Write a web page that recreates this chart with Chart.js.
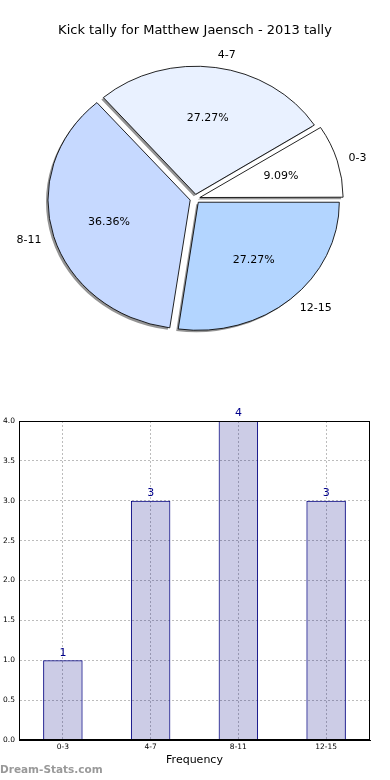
<!DOCTYPE html>
<html>
<head>
<meta charset="utf-8">
<script src="https://cdn.jsdelivr.net/npm/chart.js@4/dist/chart.umd.min.js"></script>
<style>
  html, body { margin: 0; padding: 0; background: #fff; }
  #wrap { position: relative; width: 390px; height: 780px; overflow: hidden; }
  canvas { position: absolute; left: 0; }
  #pie { top: 0; }
  #bar { top: 359px; }
  #mark { position: absolute; left: 0; top: 763px; font-family: 'DejaVu Sans', sans-serif; font-size: 10.5px; color: #999; font-weight: bold; }
</style>
</head>
<body>
<div id="wrap">
  <canvas id="pie" width="390" height="359"></canvas>
  <canvas id="bar" width="390" height="421"></canvas>
  <div id="mark">Dream-Stats.com</div>
</div>
<script>
const chartTitle = 'Kick tally for Matthew Jaensch - 2013 tally';
const categories = ['0-3', '4-7', '8-11', '12-15'];
const counts = [1, 3, 4, 3];
const pieColors = ['#ffffff', '#e9f1ff', '#c6d9ff', '#b3d5ff'];
const yTicks = [0, 0.5, 1.0, 1.5, 2.0, 2.5, 3.0, 3.5, 4.0];
const xAxisTitle = 'Frequency';

const FONT = "'DejaVu Sans', sans-serif";
const Y_SCALE = 128 / 141;   // elliptical pie (non-equal aspect)
const OFFSET = 5;            // explode distance in px (Chart.js applies offset/4)

// matplotlib draws counter-clockwise from east; Chart.js draws clockwise
const pieLabels = categories.slice().reverse();
const pieValues = counts.slice().reverse();
const pieFill = pieColors.slice().reverse();
const total = counts.reduce((a, b) => a + b, 0);

const ellipsePlugin = {
  id: 'ellipse',
  beforeDatasetsDraw(chart) {
    const ctx = chart.ctx;
    const meta = chart.getDatasetMeta(0);
    const arc = meta.data[0];
    ctx.save();
    ctx.translate(arc.x, arc.y);
    ctx.scale(1, Y_SCALE);
    ctx.translate(-arc.x, -arc.y);
    // drop shadows: all drawn first, beneath the wedges
    meta.data.forEach(a => {
      const o = a.options;
      a.options = Object.assign({}, o, { backgroundColor: 'rgba(0,0,0,0.42)', borderWidth: 0 });
      ctx.save();
      ctx.filter = 'blur(0.7px)';
      ctx.translate(-2, 2 / Y_SCALE);
      a.draw(ctx);
      ctx.restore();
      a.options = o;
    });
  },
  afterDatasetsDraw(chart) {
    const ctx = chart.ctx;
    ctx.restore();
    const meta = chart.getDatasetMeta(0);
    ctx.save();
    ctx.fillStyle = '#000';
    ctx.font = '11px ' + FONT;
    ctx.textBaseline = 'middle';
    meta.data.forEach((a, i) => {
      const mid = (a.startAngle + a.endAngle) / 2;
      const c = Math.cos(mid), s = Math.sin(mid);
      const r = a.outerRadius;
      const cx = a.x + c * OFFSET, cy = a.y + s * OFFSET * Y_SCALE;
      ctx.textAlign = c > 0 ? 'left' : 'right';
      ctx.fillText(pieLabels[i], cx + c * r * 1.1, cy + s * r * 1.1 * Y_SCALE);
      ctx.textAlign = 'center';
      const pct = (pieValues[i] / total * 100).toFixed(2) + '%';
      ctx.fillText(pct, cx + c * r * 0.6, cy + s * r * 0.6 * Y_SCALE);
    });
    ctx.restore();
  }
};

new Chart(document.getElementById('pie'), {
  type: 'pie',
  data: {
    labels: pieLabels,
    datasets: [{
      data: pieValues,
      backgroundColor: pieFill,
      borderColor: '#000',
      borderWidth: 0.9,
      offset: OFFSET * 4,
      hoverOffset: 0
    }]
  },
  options: {
    responsive: false,
    animation: false,
    rotation: 90,
    radius: 141,
    layout: { padding: 0 },
    plugins: {
      legend: { display: false },
      tooltip: { enabled: false },
      title: {
        display: true,
        text: chartTitle,
        color: '#000',
        font: { family: FONT, size: 13, weight: 'normal' },
        padding: { top: 23, bottom: 0 }
      }
    }
  },
  plugins: [ellipsePlugin]
});

const barExtras = {
  id: 'barExtras',
  afterDatasetsDraw(chart) {
    const ctx = chart.ctx;
    const meta = chart.getDatasetMeta(0);
    ctx.save();
    ctx.fillStyle = '#00008b';
    ctx.font = '11px ' + FONT;
    ctx.textAlign = 'center';
    ctx.textBaseline = 'bottom';
    meta.data.forEach((b, i) => {
      ctx.fillText(String(counts[i]), b.x, b.y - 2);
    });
    const ca = chart.chartArea;
    ctx.strokeStyle = '#000';
    ctx.lineWidth = 1;
    ctx.strokeRect(Math.round(ca.left) + 0.5, Math.round(ca.top) + 0.5,
                   Math.round(ca.right - ca.left) - 1, Math.round(ca.bottom - ca.top) - 1);
    ctx.restore();
  }
};

new Chart(document.getElementById('bar'), {
  type: 'bar',
  data: {
    labels: categories,
    datasets: [{
      data: counts,
      backgroundColor: 'rgba(0,0,128,0.2)',
      borderColor: '#000080',
      borderWidth: 1,
      barPercentage: 0.45,
      categoryPercentage: 1.0
    }]
  },
  options: {
    responsive: false,
    animation: false,
    layout: { padding: { left: 0, right: 20, top: 62, bottom: 0 } },
    plugins: { legend: { display: false }, tooltip: { enabled: false }, title: { display: false } },
    scales: {
      x: {
        offset: true,
        grid: { display: true, offset: false, color: '#bcbcbc', lineWidth: 1, drawTicks: false },
        border: { display: true, color: '#000', dash: [2, 2] },
        ticks: { color: '#000', font: { family: FONT, size: 7.5 }, padding: 3, maxRotation: 0 },
        title: { display: true, text: xAxisTitle, color: '#000', font: { family: FONT, size: 11 }, padding: { top: 0, bottom: 13 } },
        afterFit(scale) { scale.height = 40; }
      },
      y: {
        min: 0,
        max: 4,
        afterBuildTicks(scale) { scale.ticks = yTicks.map(v => ({ value: v })); },
        grid: { display: true, color: '#bcbcbc', lineWidth: 1, drawTicks: false },
        border: { display: true, color: '#000', dash: [2, 2] },
        ticks: { color: '#000', font: { family: FONT, size: 7.5 }, padding: 4, callback: v => Number(v).toFixed(1) },
        afterFit(scale) { scale.width = 19; }
      }
    }
  },
  plugins: [barExtras]
});
</script>
</body>
</html>
